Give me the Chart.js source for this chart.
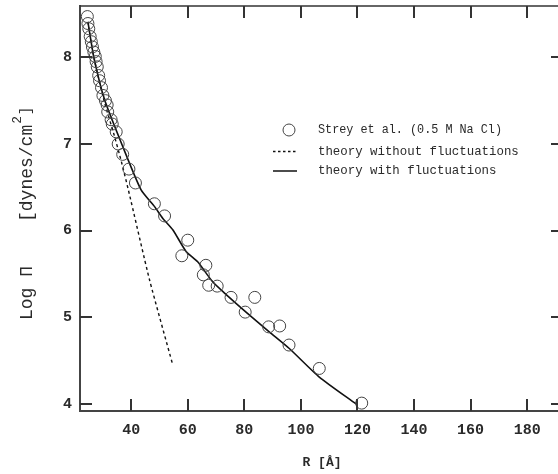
<!DOCTYPE html>
<html><head><meta charset="utf-8">
<script src="https://cdn.jsdelivr.net/npm/chart.js@4.4.0/dist/chart.umd.min.js"></script>
<style>html,body{margin:0;padding:0;background:#fff}#wrap{width:558px;height:474px}</style>
</head><body><div id="wrap"><canvas id="c" width="558" height="474"></canvas></div>
<script>
// Strey et al. (0.5 M NaCl) measured points
const streyR = [24.5,24.7,25.0,25.5,25.9,26.3,26.8,27.3,27.6,28.0,28.5,28.8,29.5,30.0,30.9,31.5,31.7,32.9,33.3,34.7,35.4,37.0,39.2,41.5,48.2,51.8,60.0,57.9,66.4,65.5,67.4,70.4,75.3,83.7,80.3,88.6,92.5,95.8,106.5,121.5];
const streyLogPi = [8.47,8.39,8.33,8.24,8.18,8.12,8.06,8.01,7.95,7.89,7.79,7.73,7.65,7.56,7.50,7.45,7.37,7.28,7.23,7.14,7.00,6.88,6.71,6.55,6.31,6.17,5.89,5.71,5.60,5.49,5.37,5.36,5.23,5.23,5.06,4.89,4.90,4.68,4.41,4.01];
// theory with fluctuations (solid)
const withFlucR = [24.7,26.8,30.6,36.9,43.5,48.2,51.2,54.7,59.4,63.5,68.8,73.0,80.6,88.9,95.9,106.5,119.5];
const withFlucLogPi = [8.41,8.00,7.51,6.98,6.47,6.28,6.14,6.01,5.76,5.64,5.41,5.28,5.06,4.83,4.64,4.31,4.00];
// theory without fluctuations (dashed)
const noFlucR = [24.7,26.8,30.4,34.0,36.5,39.0,46.5,54.7];
const noFlucLogPi = [8.41,8.00,7.50,7.10,6.80,6.47,5.43,4.45];

const xTickValues = [40,60,80,100,120,140,160,180];
const yTickValues = [4,5,6,7,8];
const legendLabels = ['Strey et al. (0.5 M Na Cl)','theory without fluctuations','theory with fluctuations'];
const xTitle = 'R [Å]';
const yTitleMain = 'Log Π';
const yTitleUnit = '[dynes/cm';
const yTitleSup = '2';
const yTitleEnd = ']';

const toXY = (xs, ys) => xs.map((v, i) => ({x: v, y: ys[i]}));
const INK = '#2a2a2a';
const MONO = '"Liberation Mono", "DejaVu Sans Mono", monospace';

const decor = {
  id: 'decor',
  afterDraw(chart) {
    const {ctx, chartArea: a, scales: {x, y}} = chart;
    ctx.save();
    // inward ticks
    ctx.strokeStyle = '#333';
    ctx.lineWidth = 2;
    ctx.beginPath();
    xTickValues.forEach(v => {
      const px = Math.round(x.getPixelForValue(v));
      ctx.moveTo(px, a.bottom); ctx.lineTo(px, a.bottom - 12);
      ctx.moveTo(px, a.top); ctx.lineTo(px, a.top + 12);
    });
    yTickValues.forEach(v => {
      const py = Math.round(y.getPixelForValue(v));
      ctx.moveTo(a.left, py); ctx.lineTo(a.left + 12, py);
      ctx.moveTo(a.right, py); ctx.lineTo(a.right - 7, py);
    });
    ctx.stroke();
    // top frame
    ctx.lineWidth = 1.5;
    ctx.beginPath(); ctx.moveTo(a.left, a.top); ctx.lineTo(a.right, a.top); ctx.stroke();

    // x title
    ctx.fillStyle = INK;
    ctx.font = 'bold 13px ' + MONO;
    ctx.textAlign = 'center'; ctx.textBaseline = 'middle';
    ctx.fillText(xTitle, 322, 463);

    // y title (rotated)
    ctx.save();
    ctx.translate(32, 0);
    ctx.rotate(-Math.PI / 2);
    ctx.font = '18px ' + MONO;
    ctx.textBaseline = 'alphabetic';
    ctx.textAlign = 'center';
    ctx.fillText(yTitleMain, -293, 0);
    ctx.textAlign = 'left';
    ctx.fillText(yTitleUnit, -222, 0);
    let w = ctx.measureText(yTitleUnit).width;
    ctx.font = '13px ' + MONO;
    ctx.fillText(yTitleSup, -222 + w + 1, -11);
    const w2 = ctx.measureText(yTitleSup).width;
    ctx.font = '14px ' + MONO;
    ctx.fillText(yTitleEnd, -222 + w + w2 + 2, -2);
    ctx.restore();

    // legend
    ctx.font = '12.4px ' + MONO;
    ctx.textAlign = 'left'; ctx.textBaseline = 'middle';
    ctx.fillStyle = INK;
    const rows = [130, 151.5, 171];
    ctx.strokeStyle = '#444'; ctx.lineWidth = 1;
    ctx.beginPath(); ctx.arc(289, rows[0], 6, 0, Math.PI * 2); ctx.stroke();
    ctx.fillText(legendLabels[0], 318, rows[0], 184);
    ctx.strokeStyle = '#111'; ctx.lineWidth = 1.3;
    ctx.setLineDash([2.5, 2.5]);
    ctx.beginPath(); ctx.moveTo(273, rows[1]); ctx.lineTo(297, rows[1]); ctx.stroke();
    ctx.setLineDash([]);
    ctx.fillText(legendLabels[1], 318, rows[1]);
    ctx.lineWidth = 1.5;
    ctx.beginPath(); ctx.moveTo(273, rows[2]); ctx.lineTo(297, rows[2]); ctx.stroke();
    ctx.fillText(legendLabels[2], 318, rows[2]);
    ctx.restore();
  }
};

const noPad = s => { s.paddingTop = 0; s.paddingBottom = 0; s.paddingLeft = 0; s.paddingRight = 0; };

new Chart(document.getElementById('c'), {
  type: 'scatter',
  data: {
    datasets: [
      {label: legendLabels[0], data: toXY(streyR, streyLogPi), showLine: false,
       pointRadius: 6, pointBorderWidth: 1, pointBorderColor: '#444', pointBackgroundColor: 'rgba(0,0,0,0)'},
      {label: legendLabels[2], data: toXY(withFlucR, withFlucLogPi), showLine: true, pointRadius: 0,
       borderColor: '#111', borderWidth: 1.6, tension: 0.2, fill: false},
      {label: legendLabels[1], data: toXY(noFlucR, noFlucLogPi), showLine: true, pointRadius: 0,
       borderColor: '#111', borderWidth: 1.4, borderDash: [3, 3], tension: 0.2, fill: false}
    ]
  },
  options: {
    responsive: false, animation: false, devicePixelRatio: 1,
    layout: {autoPadding: false, padding: {top: 6, right: 0, left: 0, bottom: 0}},
    plugins: {legend: {display: false}, tooltip: {enabled: false}},
    scales: {
      x: {
        type: 'linear', min: 21.9, max: 190.9,
        afterBuildTicks: s => { s.ticks = xTickValues.map(v => ({value: v})); },
        afterFit: s => { s.height = 63; noPad(s); },
        grid: {display: false, drawTicks: false},
        border: {display: true, color: '#444', width: 2},
        ticks: {color: INK, font: {family: MONO, size: 15, weight: 'bold'}, padding: 10, autoSkip: false, maxRotation: 0}
      },
      y: {
        type: 'linear', min: 3.919, max: 8.592,
        afterBuildTicks: s => { s.ticks = yTickValues.map(v => ({value: v})); },
        afterFit: s => { s.width = 80; noPad(s); },
        grid: {display: false, drawTicks: false},
        border: {display: true, color: '#444', width: 2},
        ticks: {color: INK, font: {family: MONO, size: 15, weight: 'bold'}, padding: 8, autoSkip: false}
      }
    }
  },
  plugins: [decor]
});
</script></body></html>
